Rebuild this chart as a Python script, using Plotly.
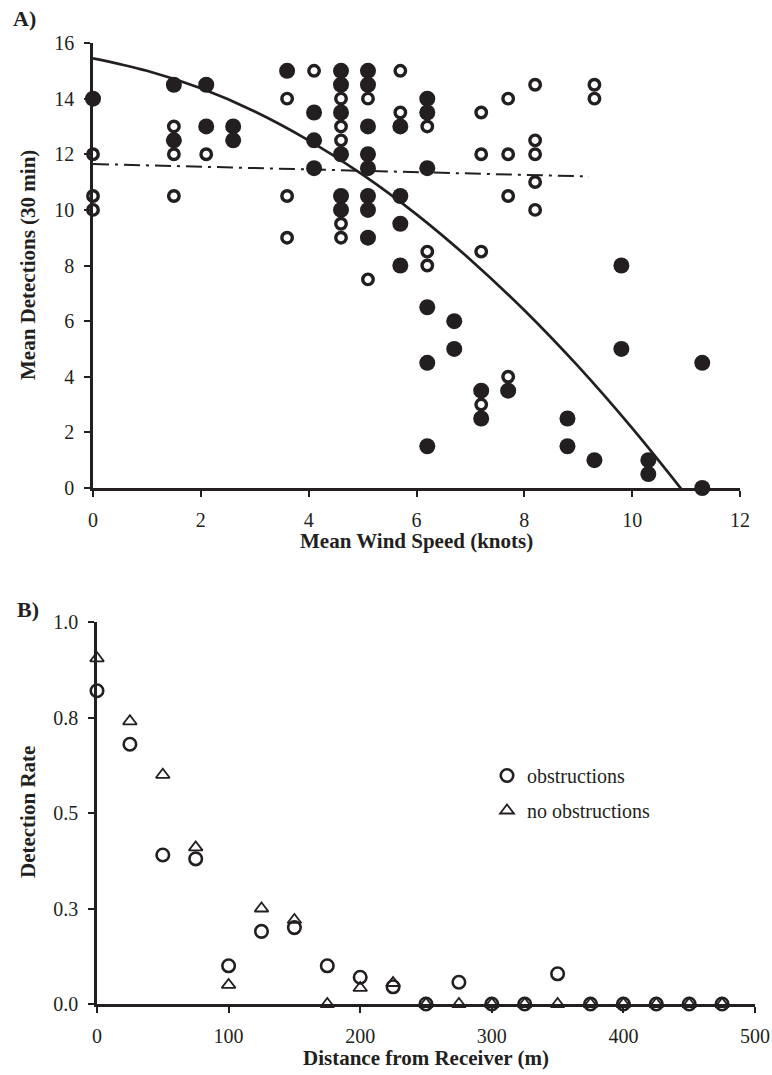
import plotly.graph_objects as go

W, H = 772, 1075

# ---------------- Panel A data ----------------
filled_x = [0, 1.5, 1.5, 2.1, 2.1, 2.6, 2.6, 3.6, 4.1, 4.1, 4.1,
            4.6, 4.6, 4.6, 4.6, 4.6, 4.6,
            5.1, 5.1, 5.1, 5.1, 5.1, 5.1, 5.1, 5.1,
            5.7, 5.7, 5.7, 5.7,
            6.2, 6.2, 6.2, 6.2, 6.2, 6.2,
            6.7, 6.7, 7.2, 7.2, 7.7, 8.8, 8.8, 9.3, 9.8, 9.8, 10.3, 10.3, 11.3, 11.3]
filled_y = [14, 14.5, 12.5, 14.5, 13, 13, 12.5, 15, 13.5, 12.5, 11.5,
            15, 14.5, 13.5, 12, 10.5, 10,
            15, 14.5, 13, 12, 11.5, 10.5, 10, 9,
            13, 10.5, 9.5, 8,
            14, 13.5, 11.5, 6.5, 4.5, 1.5,
            6, 5, 3.5, 2.5, 3.5, 2.5, 1.5, 1, 8, 5, 1, 0.5, 4.5, 0]

open_x = [0, 0, 0, 1.5, 1.5, 1.5, 2.1, 3.6, 3.6, 3.6, 4.1,
          4.6, 4.6, 4.6, 4.6, 4.6, 5.1, 5.1, 5.7, 5.7,
          6.2, 6.2, 6.2, 7.2, 7.2, 7.2, 7.2, 7.7, 7.7, 7.7, 7.7,
          8.2, 8.2, 8.2, 8.2, 8.2, 9.3, 9.3]
open_y = [12, 10.5, 10, 13, 12, 10.5, 12, 14, 10.5, 9, 15,
          14, 13, 12.5, 9.5, 9, 14, 7.5, 15, 13.5,
          13, 8.5, 8, 13.5, 12, 8.5, 3, 14, 12, 10.5, 4,
          14.5, 12.5, 12, 11, 10, 14.5, 14]

# trend lines
curve_x = [0, 1, 2, 3, 4, 5, 6, 7, 8, 9, 10, 11.06]
curve_y = [15.45, 15.0, 14.37, 13.54, 12.5, 11.27, 9.84, 8.21, 6.39, 4.37, 2.15, -0.4]
dashdot_x = [0, 9.2]
dashdot_y = [11.65, 11.2]

xA_ticks = [0, 2, 4, 6, 8, 10, 12]
yA_ticks = [0, 2, 4, 6, 8, 10, 12, 14, 16]

# ---------------- Panel B data ----------------
distance = [0, 25, 50, 75, 100, 125, 150, 175, 200, 225, 250, 275, 300, 325,
            350, 375, 400, 425, 450, 475]
obstructions = [0.82, 0.68, 0.39, 0.38, 0.10, 0.19, 0.20, 0.10, 0.07, 0.045, 0,
                0.057, 0, 0, 0.079, 0, 0, 0, 0, 0]
no_obstructions = [0.905, 0.74, 0.60, 0.41, 0.05, 0.25, 0.22, 0, 0.042, 0.055, 0,
                   0, 0, 0, 0, 0, 0, 0, 0, 0]
xB_ticks = [0, 100, 200, 300, 400, 500]
yB_tickvals = [0, 0.25, 0.5, 0.75, 1.0]
yB_ticktext = ["0.0", "0.3", "0.5", "0.8", "1.0"]

INK = "#231f20"
FONT = "Liberation Serif"


def px_x(p):
    return p / W


def px_y(p):
    return 1 - p / H


fig = go.Figure()

# Panel A
fig.add_trace(go.Scatter(x=curve_x, y=curve_y, mode="lines", line_shape="spline",
                         line=dict(color=INK, width=2.7), xaxis="x", yaxis="y",
                         showlegend=False, hoverinfo="skip"))
fig.add_trace(go.Scatter(x=dashdot_x, y=dashdot_y, mode="lines",
                         line=dict(color=INK, width=2, dash="16px,6px,3px,6px"),
                         xaxis="x", yaxis="y", showlegend=False, hoverinfo="skip"))
fig.add_trace(go.Scatter(x=filled_x, y=filled_y, mode="markers",
                         marker=dict(symbol="circle", size=16, color=INK, line=dict(width=0)),
                         xaxis="x", yaxis="y", showlegend=False, cliponaxis=False))
fig.add_trace(go.Scatter(x=open_x, y=open_y, mode="markers",
                         marker=dict(symbol="circle", size=10.5, color="white",
                                     line=dict(width=3.4, color=INK)),
                         xaxis="x", yaxis="y", showlegend=False, cliponaxis=False))

# Panel B
fig.add_trace(go.Scatter(x=distance, y=obstructions, mode="markers", name="obstructions",
                         marker=dict(symbol="circle-open", size=12.5, color=INK,
                                     line=dict(width=2.6, color=INK)),
                         xaxis="x2", yaxis="y2", legendgroup="a", cliponaxis=False))
fig.add_trace(go.Scatter(x=distance, y=no_obstructions, mode="markers", name="no obstructions",
                         marker=dict(symbol="triangle-up-open", size=12, color=INK,
                                     line=dict(width=1.8, color=INK)),
                         xaxis="x2", yaxis="y2", legendgroup="b", cliponaxis=False))

axis_common = dict(showline=True, linecolor=INK, linewidth=2.6, ticks="outside",
                   ticklen=6, tickwidth=2.4, tickcolor=INK, showgrid=False, zeroline=False,
                   tickfont=dict(family=FONT, size=20, color=INK), automargin=False,
                   fixedrange=True)

fig.update_layout(
    width=W, height=H,
    margin=dict(l=0, r=0, t=0, b=0),
    paper_bgcolor="white", plot_bgcolor="white",
    font=dict(family=FONT, color=INK),
    xaxis=dict(domain=[px_x(93), px_x(740)], range=[0, 12], tickvals=xA_ticks,
               anchor="y", ticklabelstandoff=6, **axis_common),
    yaxis=dict(domain=[px_y(488), px_y(43)], range=[0, 16], tickvals=yA_ticks,
               anchor="x", ticklabelstandoff=6, **axis_common),
    xaxis2=dict(domain=[px_x(97), px_x(755)], range=[0, 500], tickvals=xB_ticks,
                anchor="y2", ticklabelstandoff=6, **axis_common),
    yaxis2=dict(domain=[px_y(1004), px_y(622)], range=[0, 1.0], tickvals=yB_tickvals,
                ticktext=yB_ticktext, anchor="x2", ticklabelstandoff=6, **axis_common),
    legend=dict(x=px_x(487), y=px_y(756), xanchor="left", yanchor="top",
                font=dict(family=FONT, size=20, color=INK), bgcolor="rgba(0,0,0,0)",
                itemwidth=30, tracegroupgap=6),
    showlegend=True,
)

annots = [
    dict(text="<b>A)</b>", x=px_x(24), y=px_y(19), size=22, angle=0),
    dict(text="<b>B)</b>", x=px_x(28), y=px_y(609), size=22, angle=0),
    dict(text="<b>Mean Detections (30 min)</b>", x=px_x(28), y=px_y(265), size=21, angle=-90),
    dict(text="<b>Mean Wind Speed (knots)</b>", x=px_x(416), y=px_y(541), size=21, angle=0),
    dict(text="<b>Detection Rate</b>", x=px_x(28), y=px_y(812), size=21, angle=-90),
    dict(text="<b>Distance from Receiver (m)</b>", x=px_x(426), y=px_y(1058), size=21, angle=0),
]
for a in annots:
    fig.add_annotation(text=a["text"], x=a["x"], y=a["y"], xref="paper", yref="paper",
                       xanchor="center", yanchor="middle", showarrow=False,
                       textangle=a["angle"], font=dict(family=FONT, size=a["size"], color=INK))

fig.write_html("out.html", config={"displayModeBar": False},
               post_script="document.body.style.margin='0';document.body.style.overflow='hidden';")
